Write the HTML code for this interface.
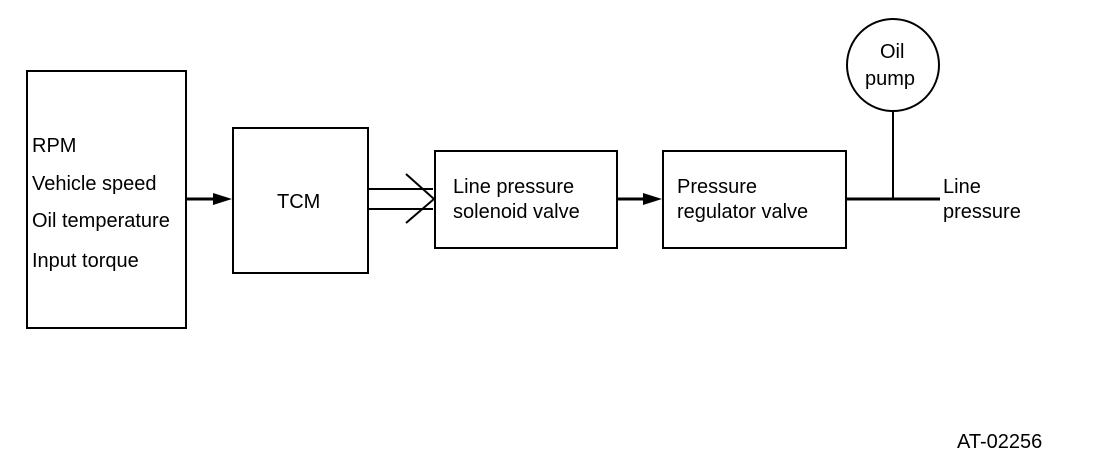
<!DOCTYPE html>
<html><head><style>
body{margin:0;background:#fff;}
svg text{font-family:"Liberation Sans",Arial,sans-serif;font-size:20px;fill:#000;}
</style></head><body>
<svg width="1120" height="470" xmlns="http://www.w3.org/2000/svg">
<g fill="none" stroke="#000" stroke-width="2">
<rect x="27" y="71" width="159" height="257"/>
<rect x="233" y="128" width="135" height="145"/>
<rect x="435" y="151" width="182" height="97"/>
<rect x="663" y="151" width="183" height="97"/>
<circle cx="893" cy="65" r="46"/>
<line x1="893" y1="111" x2="893" y2="199"/>
<line x1="368" y1="189" x2="433" y2="189"/>
<line x1="368" y1="209" x2="433" y2="209"/>
<polyline points="406,174 434,199 406,223"/>
</g>
<g stroke="#000" stroke-width="3">
<line x1="186" y1="199" x2="220" y2="199"/>
<line x1="617" y1="199" x2="650" y2="199"/>
<line x1="846" y1="199" x2="940" y2="199"/>
</g>
<polygon points="232,199 213,193 213,205" fill="#000"/>
<polygon points="662,199 643,193 643,205" fill="#000"/>
<text x="32" y="152">RPM</text>
<text x="32" y="190">Vehicle speed</text>
<text x="32" y="227">Oil temperature</text>
<text x="32" y="267">Input torque</text>
<text x="277" y="208">TCM</text>
<text x="453" y="193">Line pressure</text>
<text x="453" y="218">solenoid valve</text>
<text x="677" y="193">Pressure</text>
<text x="677" y="218">regulator valve</text>
<text x="880" y="58">Oil</text>
<text x="865" y="85">pump</text>
<text x="943" y="193">Line</text>
<text x="943" y="218">pressure</text>
<text x="957" y="448">AT-02256</text>
</svg>
</body></html>
